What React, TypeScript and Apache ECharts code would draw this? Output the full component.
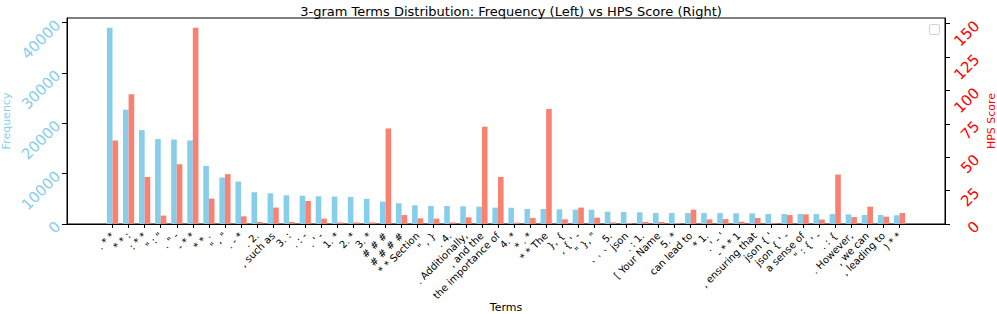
import React, { useEffect, useRef } from "react";
import * as echarts from "echarts";

const terms: string[] = [
  ". * *", "* * :", ": * *", "\" : \"", ". \" -", "- * *", "* * .", "\" , \"", ". - *", ". 2.",
  ", such as", "3. :", ". : -", ". ' -", "1. *", "2. *", "3. *", "# # #", "# # # #", "* * Section",
  "\" , }", ". 4.", ". Additionally,", ", and the", "the importance of", "4. *", "* . *", "* * The", "}, {", ", { ' -",
  "\" }, \"", "5.", "` ` ` json", ". : 1.", "[ Your Name", "5. *", "can lead to", "* 1.", ". ' - '", "- * * 1",
  ", ensuring that", "json { '", "json { ' -", "a sense of", "\" : { ' -", ". : {", ". However,", ", we can", ", leading to", ") * *",
];

const frequency: number[] = [
  38980, 22710, 18660, 16870, 16800, 16600, 11550, 9230, 8430, 6310,
  6110, 5710, 5610, 5510, 5440, 5380, 4980, 4450, 4120, 3720,
  3590, 3580, 3520, 3450, 3250, 3240, 2990, 2980, 2930, 2850,
  2840, 2450, 2390, 2330, 2190, 2180, 2170, 2170, 2160, 2130,
  2120, 1990, 1990, 1985, 1980, 1975, 1920, 1790, 1785, 1730,
];

const hpsScore: number[] = [
  62.5, 97, 35.2, 6.3, 44.7, 146.8, 19, 37.3, 5.7, 1.5,
  12.3, 1.5, 17.2, 4, 1.2, 1.2, 1.2, 71.5, 6.7, 4.2,
  4, 1.2, 5, 72.8, 35.2, 1, 4.5, 86, 3.5, 12.3,
  4.7, 1.2, 0.7, 1.5, 1.5, 0.7, 10.7, 3.5, 3.7, 1.7,
  4.5, 0.7, 6.7, 7.2, 3.3, 37, 5.2, 13, 5.5, 8.2,
];

const freqTicks: number[] = [0, 10000, 20000, 30000, 40000];
const hpsTicks: number[] = [0, 25, 50, 75, 100, 125, 150];

const FONT = "DejaVu Sans";

export default function App() {
  const ref = useRef<HTMLDivElement>(null);
  useEffect(() => {
    document.body.style.margin = "0";
    if (!ref.current) return;
    const chart = echarts.init(ref.current, null, { renderer: "svg" });
    const idx = terms.map((_, i) => i);
    const n = terms.length;
    const barW = 0.35;
    const pad = (n - 1 + 2 * barW) * 0.05;
    const xMin = -barW - pad;
    const xMax = n - 1 + barW + pad;
    const fMax = Math.max(...frequency) * 1.05;
    const hMax = Math.max(...hpsScore) * 1.05;
    chart.setOption({
      animation: false,
      backgroundColor: "#ffffff",
      textStyle: { fontFamily: FONT },
      title: {
        text: "3-gram Terms Distribution: Frequency (Left) vs HPS Score (Right)",
        left: 506,
        textAlign: "center",
        top: 0,
        textStyle: { fontSize: 13, fontWeight: "normal", color: "#000", fontFamily: FONT },
      },
      grid: {
        left: 67, right: 52, top: 18, bottom: 90,
        outerBoundsMode: "none",
        containLabel: false,
        show: true, borderColor: "#000", borderWidth: 1, backgroundColor: "transparent",
      },
      xAxis: {
        type: "value",
        min: xMin,
        max: xMax,
        name: "Terms",
        nameLocation: "middle",
        nameGap: 78,
        nameMoveOverlap: false,
        nameTextStyle: { fontSize: 11, color: "#000", fontFamily: FONT },
        splitLine: { show: false },
        axisLine: { show: true, onZero: false, lineStyle: { color: "#000" } },
        axisTick: { show: true, customValues: idx, length: 4, lineStyle: { color: "#000" } },
        axisLabel: {
          customValues: idx,
          rotate: 45,
          fontSize: 10,
          color: "#000",
          margin: 10,
          fontFamily: FONT,
          formatter: (v: number) => terms[Math.round(v)] ?? "",
        },
      },
      yAxis: [
        {
          type: "value",
          min: 0,
          max: fMax,
          position: "left",
          name: "Frequency",
          nameLocation: "middle",
          nameGap: 55,
          nameMoveOverlap: false,
          nameTextStyle: { fontSize: 11, color: "#87CEEB", fontFamily: FONT },
          splitLine: { show: false },
          axisLine: { show: true, onZero: false, lineStyle: { color: "#000" } },
          axisTick: { show: true, customValues: freqTicks, length: 5, lineStyle: { color: "#000" } },
          axisLabel: {
            customValues: freqTicks,
            rotate: 45,
            fontSize: 15,
            color: "#87CEEB",
            margin: 9,
            fontFamily: FONT,
            formatter: (v: number) => String(v),
          },
        },
        {
          type: "value",
          min: 0,
          max: hMax,
          position: "right",
          name: "HPS Score",
          nameLocation: "middle",
          nameGap: 41,
          nameMoveOverlap: false,
          nameTextStyle: { fontSize: 11, color: "#FF0000", fontFamily: FONT },
          splitLine: { show: false },
          axisLine: { show: true, onZero: false, lineStyle: { color: "#000" } },
          axisTick: { show: true, customValues: hpsTicks, length: 5, lineStyle: { color: "#000" } },
          axisLabel: {
            customValues: hpsTicks,
            rotate: 45,
            fontSize: 15,
            color: "#FF0000",
            margin: 32,
            align: "right",
            fontFamily: FONT,
            formatter: (v: number) => String(v),
          },
        },
      ],
      series: [
        {
          name: "Frequency",
          type: "bar",
          xAxisIndex: 0,
          yAxisIndex: 0,
          barWidth: 5.6,
          barGap: "0%",
          itemStyle: { color: "#87CEEB" },
          data: frequency.map((v, i) => [i, v]),
        },
        {
          name: "HPS Score",
          type: "bar",
          xAxisIndex: 0,
          yAxisIndex: 1,
          barWidth: 5.6,
          barGap: "0%",
          itemStyle: { color: "#FA8072" },
          data: hpsScore.map((v, i) => [i, v]),
        },
      ],
      graphic: [
        {
          type: "rect",
          left: 929,
          top: 24,
          shape: { width: 10, height: 10, r: 2 },
          style: { fill: "#ffffff", stroke: "#d0d0d0", lineWidth: 1 },
        },
      ],
    });
    return () => chart.dispose();
  }, []);
  return <div ref={ref} style={{ width: 997, height: 314 }} />;
}
